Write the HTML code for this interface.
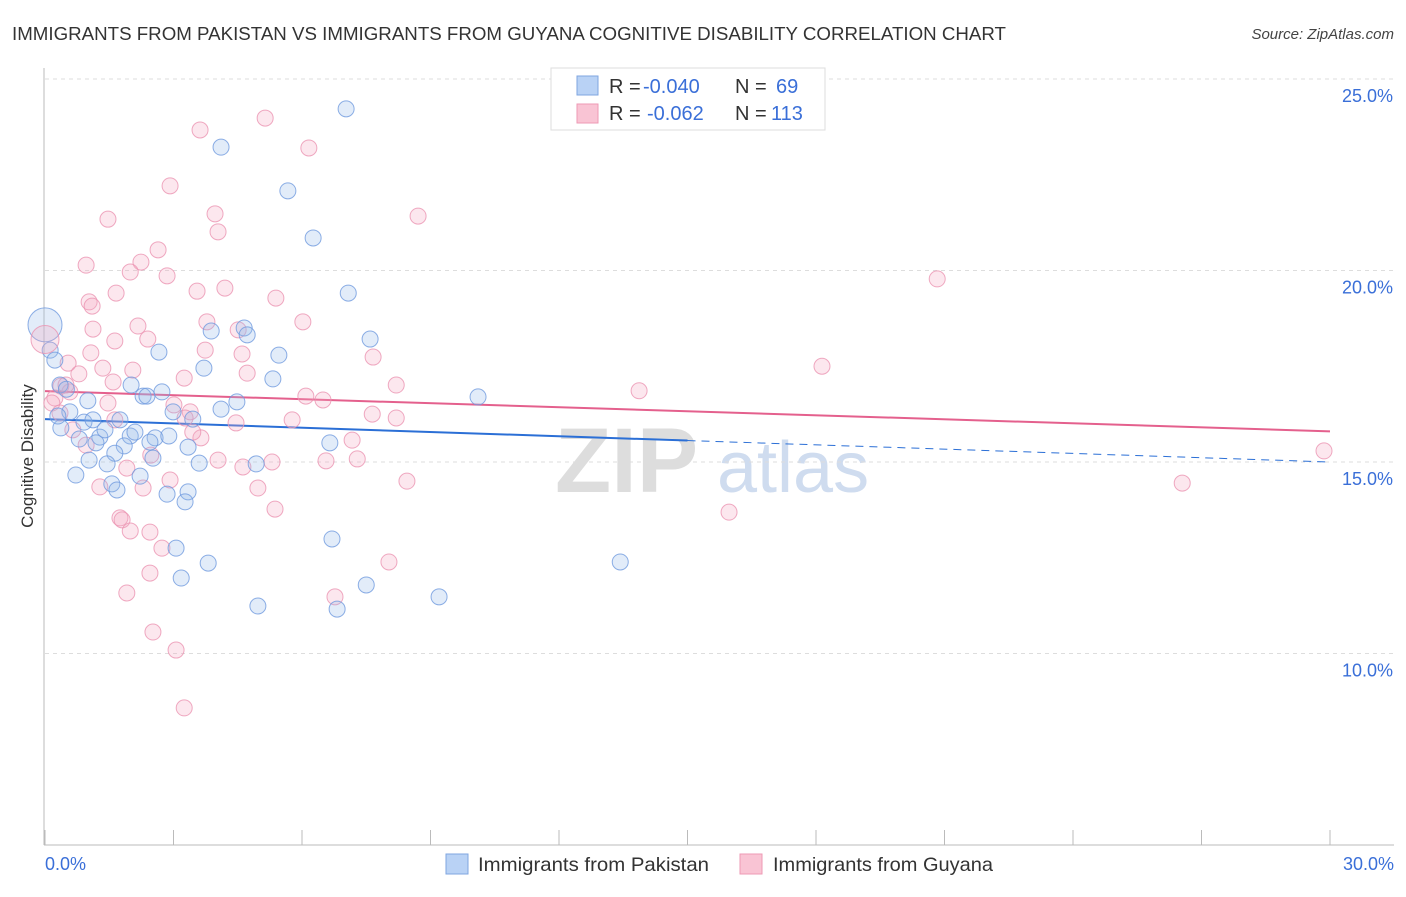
<!DOCTYPE html>
<html><head><meta charset="utf-8"><style>
body{margin:0;background:#fff;font-family:"Liberation Sans",sans-serif;}
svg text{font-family:"Liberation Sans",sans-serif;}
</style></head><body>
<svg id="chart" width="1406" height="892" xmlns="http://www.w3.org/2000/svg">
<text x="12" y="40" font-size="18" fill="#333" textLength="994" lengthAdjust="spacingAndGlyphs">IMMIGRANTS FROM PAKISTAN VS IMMIGRANTS FROM GUYANA COGNITIVE DISABILITY CORRELATION CHART</text>
<text x="1394" y="39" font-size="15" fill="#444" font-style="italic" text-anchor="end">Source: ZipAtlas.com</text>
<text transform="translate(33,456) rotate(-90)" font-size="17" fill="#333" text-anchor="middle">Cognitive Disability</text>
<g>
<text x="555" y="492" font-size="92" fill="#ddd" font-family="Liberation Serif" font-weight="bold">ZIP</text>
<text x="717" y="492" font-size="72" fill="#cfdcef">atlas</text>
</g>
<g id="grid"></g><g id="axes"></g><g id="trend"></g><g id="pts"></g>
<g>
<rect x="551" y="68" width="274" height="62" fill="#fff" stroke="#ddd"/>
<rect x="577" y="76" width="21" height="19" fill="#b9d2f5" stroke="#7fa6e0"/>
<rect x="577" y="104" width="21" height="19" fill="#f9c4d4" stroke="#ee9ab4"/>
<text x="609" y="93" font-size="20" fill="#333">R =</text>
<text x="643" y="93" font-size="20" fill="#3a6fd8">-0.040</text>
<text x="735" y="93" font-size="20" fill="#333">N =</text>
<text x="776" y="93" font-size="20" fill="#3a6fd8">69</text>
<text x="609" y="120" font-size="20" fill="#333">R =</text>
<text x="647" y="120" font-size="20" fill="#3a6fd8">-0.062</text>
<text x="735" y="120" font-size="20" fill="#333">N =</text>
<text x="771" y="120" font-size="20" fill="#3a6fd8">113</text>
</g>
<g>
<rect x="446" y="854" width="22" height="20" fill="#b9d2f5" stroke="#7fa6e0"/>
<text x="478" y="871" font-size="19.5" fill="#333" textLength="231" lengthAdjust="spacingAndGlyphs">Immigrants from Pakistan</text>
<rect x="740" y="854" width="22" height="20" fill="#f9c4d4" stroke="#ee9ab4"/>
<text x="773" y="871" font-size="19.5" fill="#333" textLength="220" lengthAdjust="spacingAndGlyphs">Immigrants from Guyana</text>
</g>
</svg>
<script>
const yTicks=[10,15,20,25];
const xTickLabels=["0.0%","30.0%"];
const blueX=[7.03,4.11,5.67,6.26,7.08,0.12,0.23,3.88,4.65,4.72,2.66,5.46,7.59,3.71,5.32,2.01,2.73,2.29,2.38,4.48,10.11,0.35,4.11,2.99,3.45,0.58,0.91,1.12,0.37,1.75,1.99,2.57,2.89,1.28,1.19,1.85,2.45,6.65,1.63,2.52,3.34,1.03,1.45,3.6,4.93,0.72,2.22,1.56,1.68,2.85,3.34,3.27,6.7,3.06,3.81,3.18,7.5,9.2,4.97,6.82,13.43,2.1,1.4,0.5,0.3,1.0,0.8];
const blueY=[24.22,23.22,22.08,20.85,19.41,17.92,17.66,18.42,18.5,18.32,17.87,17.79,18.21,17.45,17.17,17.01,16.83,16.72,16.72,16.57,16.7,17.01,16.38,16.31,16.12,16.31,16.04,16.1,15.89,16.1,15.68,15.63,15.68,15.65,15.5,15.42,15.52,15.5,15.23,15.1,15.39,15.05,14.95,14.97,14.95,14.66,14.63,14.43,14.27,14.16,14.22,13.96,12.99,12.75,12.36,11.97,11.79,11.48,11.24,11.16,12.39,15.78,15.84,16.9,16.2,16.6,15.6];
const pinkX=[5.14,3.62,6.16,2.92,1.47,3.97,8.71,4.04,2.64,2.24,0.96,1.99,2.85,20.83,3.55,4.2,1.66,5.39,1.03,1.1,6.02,3.78,4.51,2.17,1.12,1.63,2.4,3.74,4.6,7.66,1.07,0.54,1.35,2.05,3.25,4.72,0.79,18.14,1.59,8.2,0.37,0.58,13.87,0.23,6.09,6.49,1.47,3.01,3.39,3.27,7.64,8.2,5.77,4.46,1.63,0.65,0.96,3.64,3.45,7.17,2.47,4.04,5.3,6.56,7.29,4.62,1.91,8.45,2.92,4.97,1.28,2.29,26.55,29.86,5.37,15.97,1.75,1.8,1.99,2.45,2.73,8.03,2.45,1.91,6.77,2.52,3.06,3.25,0.49,0.16,0.35];
const pinkY=[23.98,23.67,23.2,22.21,21.34,21.48,21.42,21.01,20.54,20.22,20.14,19.96,19.86,19.78,19.46,19.54,19.41,19.28,19.18,19.07,18.66,18.66,18.45,18.55,18.47,18.16,18.21,17.92,17.82,17.74,17.85,17.58,17.45,17.4,17.19,17.32,17.3,17.5,17.09,17.01,16.98,16.83,16.86,16.67,16.72,16.62,16.54,16.49,16.31,16.15,16.25,16.15,16.1,16.02,16.1,15.84,15.44,15.63,15.78,15.57,15.18,15.05,15.0,15.03,15.08,14.87,14.84,14.5,14.53,14.32,14.35,14.32,14.45,15.29,13.77,13.69,13.54,13.49,13.2,13.17,12.75,12.39,12.1,11.58,11.48,10.56,10.09,8.58,17.01,16.54,16.28];
const bigBlue=[0,18.58], bigPink=[0,18.2];
const blueTrend=[-0.04,16.12,15.0], pinkTrend=[16.85,15.8];
const NS="http://www.w3.org/2000/svg";
const sx=v=>45+v/30*1285, sy=v=>462-(v-15)*38.3;
function mk(tag,attrs,parent){const e=document.createElementNS(NS,tag);for(const k in attrs)e.setAttribute(k,attrs[k]);document.getElementById(parent).appendChild(e);return e;}
yTicks.forEach(t=>{
 const l=mk('line',{x1:45,x2:1394,y1:sy(t),y2:sy(t),stroke:'#ddd','stroke-dasharray':'4,4'},'grid');
 
 
 const tx=mk('text',{x:1393,y:sy(t)+23,'font-size':18,fill:'#3a6fd8','text-anchor':'end'},'grid');
 tx.textContent=t.toFixed(1)+'%';
 
 
});
const ax=mk('line',{x1:44,x2:44,y1:68,y2:845,stroke:'#bbb'},'axes');


const bx=mk('line',{x1:44,x2:1394,y1:845,y2:845,stroke:'#bbb'},'axes');


for(let i=0;i<=10;i++){const t=mk('line',{x1:sx(i*3),x2:sx(i*3),y1:830,y2:845,stroke:'#bbb'},'axes');
 
 }
const xl0=mk('text',{x:45,y:870,'font-size':18,fill:'#3a6fd8'},'axes');xl0.textContent=xTickLabels[0];


const xl1=mk('text',{x:1394,y:870,'font-size':18,fill:'#3a6fd8','text-anchor':'end'},'axes');xl1.textContent=xTickLabels[1];


function dot(x,y,r,fill,stroke,name){const c=mk('circle',{cx:sx(x),cy:sy(y),r:r,fill:fill,stroke:stroke,'stroke-width':1,'stroke-opacity':0.8},'pts');
 
 }
pinkX.forEach((x,i)=>dot(x,pinkY[i],8,'rgba(246,170,195,0.28)','#eb94b2','guyana-point'));
blueX.forEach((x,i)=>dot(x,blueY[i],8,'rgba(150,185,235,0.28)','#6f9ade','pakistan-point'));
dot(bigBlue[0],bigBlue[1],17,'rgba(150,185,235,0.28)','#6f9ade','pakistan-point');
dot(bigPink[0],bigPink[1],14,'rgba(246,170,195,0.28)','#eb94b2','guyana-point');
const tb=mk('line',{x1:sx(0),y1:sy(blueTrend[1]),x2:sx(15),y2:sy(blueTrend[1]+(blueTrend[2]-blueTrend[1])*0.5),stroke:'#2b6fd6','stroke-width':2},'trend');


const tbd=mk('line',{x1:sx(15),y1:sy(blueTrend[1]+(blueTrend[2]-blueTrend[1])*0.5),x2:sx(30),y2:sy(blueTrend[2]),stroke:'#2b6fd6','stroke-width':1,'stroke-dasharray':'8,6'},'trend');


const tp=mk('line',{x1:sx(0),y1:sy(pinkTrend[0]),x2:sx(30),y2:sy(pinkTrend[1]),stroke:'#e4608d','stroke-width':2},'trend');


</script>
</body></html>
